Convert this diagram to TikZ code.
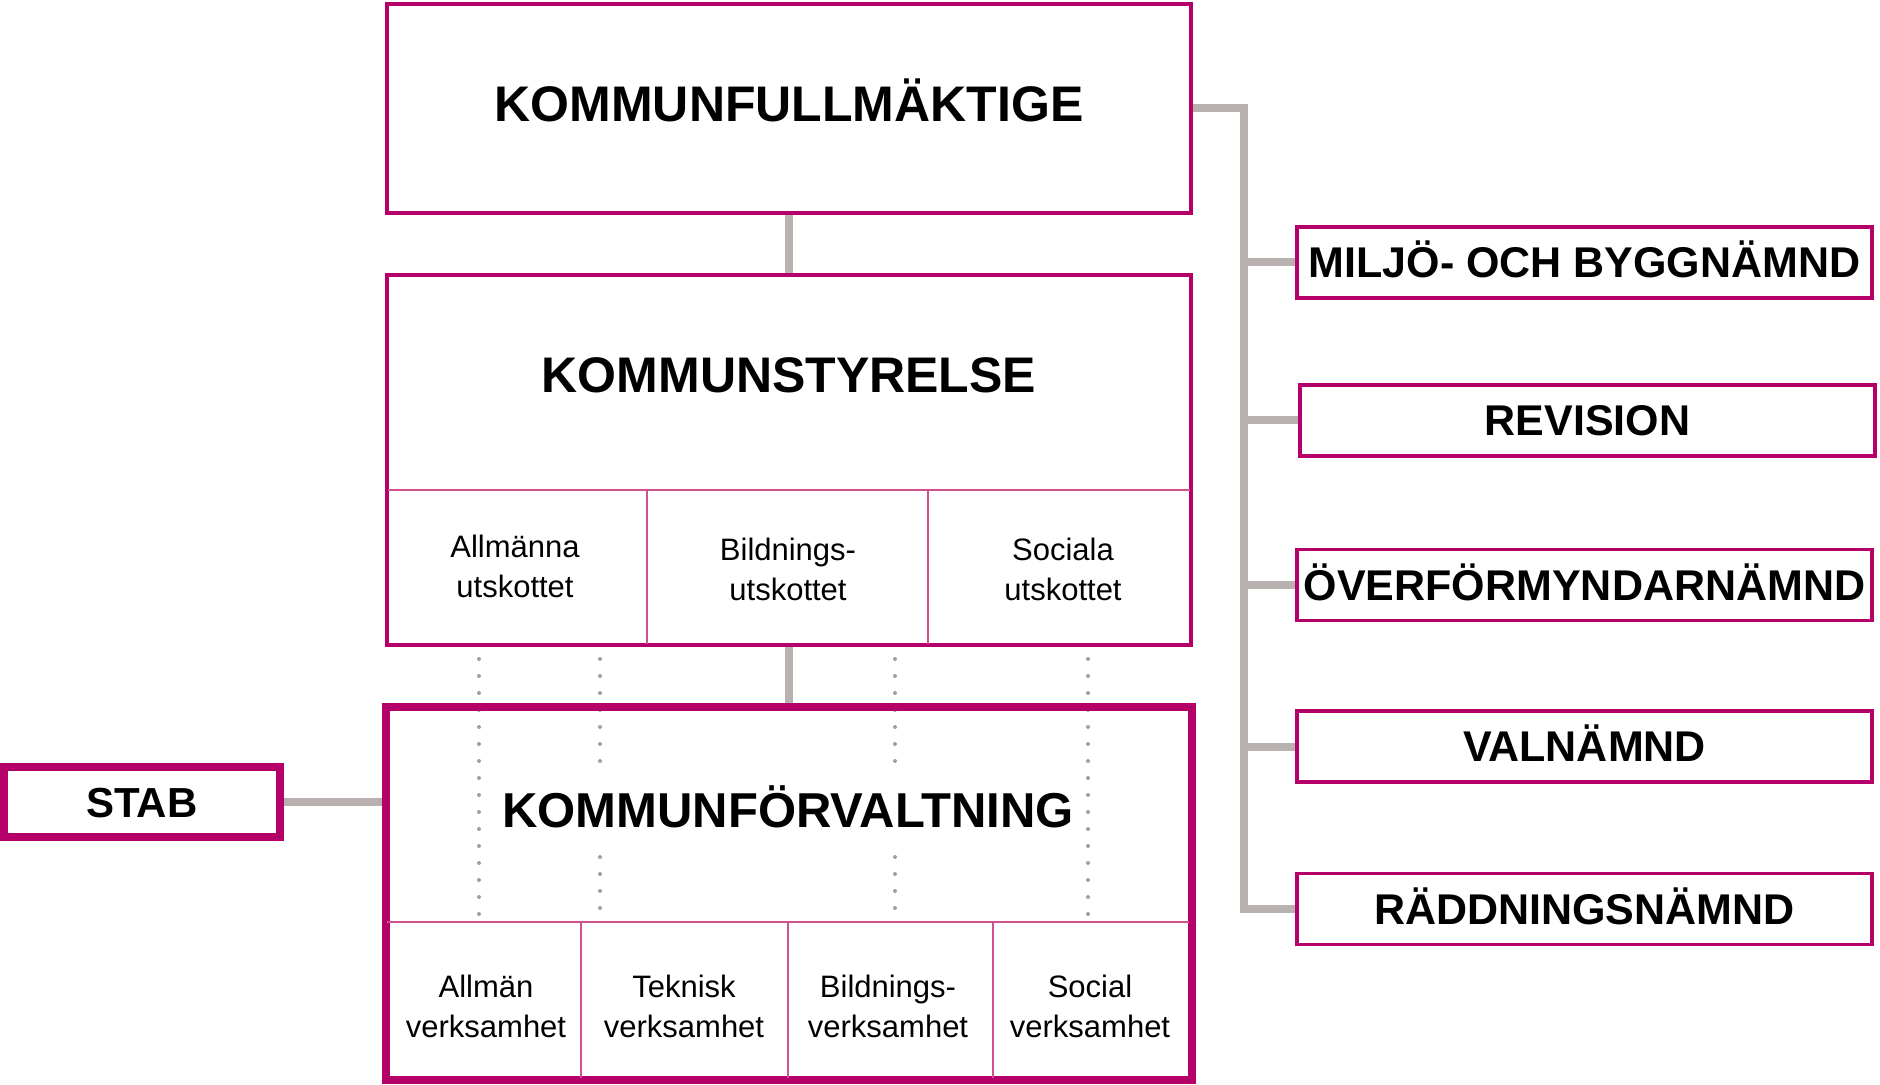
\documentclass[tikz,border=0pt]{standalone}
\usepackage{fontspec}
\setmainfont{Liberation Sans}
\definecolor{mag}{RGB}{181,0,106}
\definecolor{pinkline}{RGB}{208,80,145}
\definecolor{conngray}{RGB}{185,177,175}
\definecolor{dotgray}{RGB}{160,160,160}
\begin{document}
\begin{tikzpicture}[x=0.5pt,y=-0.5pt,
  box/.style={draw=mag,line width=1.7pt,rectangle,inner sep=0pt},
  thickbox/.style={draw=mag,line width=4pt,rectangle,inner sep=0pt},
  bigtitle/.style={font=\bfseries\fontsize{25}{30}\selectfont,text height=17.9pt,text depth=0pt,inner sep=0pt},
  sidebox/.style={box,minimum width=287.5pt,minimum height=35.5pt,
    font=\bfseries\fontsize{21.5}{26}\selectfont,text height=15.4pt,text depth=0pt},
  cell/.style={font=\fontsize{15.5}{20}\selectfont,align=center,inner sep=0pt},
  conn/.style={draw=conngray,line width=4pt},
  innerline/.style={draw=pinkline,line width=1.3pt},
  dots/.style={draw=dotgray,line width=2pt,line cap=round,dash pattern=on 0pt off 8.5pt}
]
\useasboundingbox (0,0) rectangle (1880,1085);

% dotted guide lines
\draw[dots] (479,659) -- (479,920);
\draw[dots] (1088,659) -- (1088,920);
\draw[dots] (600,659) -- (600,771);
\draw[dots] (600,857) -- (600,920);
\draw[dots] (895,659) -- (895,771);
\draw[dots] (895,857) -- (895,920);

% Kommunfullmäktige
\node[box,minimum width=402pt,minimum height=104.5pt,
  font=\bfseries\fontsize{25}{30}\selectfont,text height=17.9pt,text depth=4.5pt]
  (KF) at (789,108.5) {KOMMUNFULLMÄKTIGE};

% Kommunstyrelse
\node[box,minimum width=402pt,minimum height=185pt] (KS) at (789,460) {};
\node[bigtitle] (KStitle) at (789,375) {KOMMUNSTYRELSE};
\draw[innerline] (388,490) -- (1190,490);
\draw[innerline] (647,490) -- (647,644);
\draw[innerline] (928,490) -- (928,644);
\node[cell] (U1) at (515,566) {Allmänna\\utskottet};
\node[cell] (U2) at (788,569) {Bildnings-\\utskottet};
\node[cell] (U3) at (1063,569) {Sociala\\utskottet};

% Kommunförvaltning
\node[thickbox,minimum width=403pt,minimum height=186.5pt] (KFV) at (789,893.5) {};
\node[font=\bfseries\fontsize{24.5}{30}\selectfont,text height=17.5pt,text depth=0pt,inner sep=0pt]
  (KFVtitle) at (788,809.5) {KOMMUNFÖRVALTNING};
\draw[innerline] (387,922) -- (1189,922);
\draw[innerline] (581,922) -- (581,1078);
\draw[innerline] (788,922) -- (788,1078);
\draw[innerline] (993,922) -- (993,1078);
\node[cell] (V1) at (486,1006) {Allmän\\verksamhet};
\node[cell] (V2) at (684,1006) {Teknisk\\verksamhet};
\node[cell] (V3) at (888,1006) {Bildnings-\\verksamhet};
\node[cell] (V4) at (1090,1006) {Social\\verksamhet};

% Stab
\node[thickbox,minimum width=138pt,minimum height=35pt,
  font=\bfseries\fontsize{21}{26}\selectfont,text height=15pt,text depth=0pt]
  (STAB) at (142,802) {STAB};

% side boxes
\node[sidebox] (MB) at (1584.5,262.5) {MILJÖ- OCH BYGGNÄMND};
\node[sidebox] (REV) at (1587.5,420.5) {REVISION};
\node[sidebox] (OFN) at (1584.5,585) {ÖVERFÖRMYNDARNÄMND};
\node[sidebox] (VAL) at (1584.5,746.5) {VALNÄMND};
\node[sidebox] (RN) at (1584.5,909) {RÄDDNINGSNÄMND};

% connectors
\coordinate (busx) at (1244,0);
\draw[conn] (KF.south) -- (KS.north);
\draw[conn] (KS.south) -- (KFV.north);
\draw[conn] (STAB.east) -- (STAB.east -| KFV.west);
\draw[conn,line join=miter] (KF.east) -| (busx |- RN.west) -- (RN.west);
\draw[conn] (busx |- MB.west) -- (MB.west);
\draw[conn] (busx |- REV.west) -- (REV.west);
\draw[conn] (busx |- OFN.west) -- (OFN.west);
\draw[conn] (busx |- VAL.west) -- (VAL.west);
\end{tikzpicture}
\end{document}
